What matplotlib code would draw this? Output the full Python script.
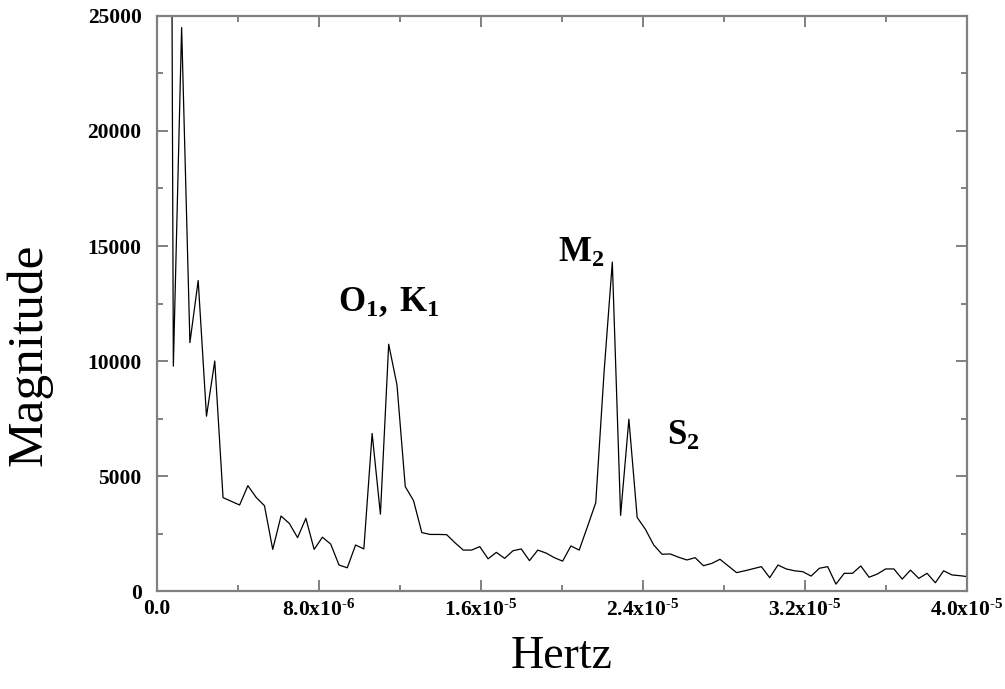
import numpy as np
import matplotlib
matplotlib.use("Agg")
import matplotlib.pyplot as plt
from matplotlib.ticker import MultipleLocator, FixedLocator, FixedFormatter

# Spectrum magnitude for FFT bins 1..98 (bin spacing in Hz below)
bin_spacing_hz = 0.409e-6
magnitude = [
    107000, 9780, 24500, 10800, 13500, 7600, 10000, 4060, 3900, 3740,
    4580, 4070, 3710, 1810, 3260, 2940, 2320, 3160, 1810, 2340,
    2040, 1130, 1010, 2000, 1830, 6850, 3340, 10730, 8960, 4540,
    3930, 2540, 2460, 2460, 2450, 2100, 1780, 1780, 1930, 1400,
    1680, 1420, 1750, 1830, 1320, 1780, 1650, 1450, 1300, 1960,
    1780, 2800, 3840, 9500, 14300, 3290, 7470, 3200, 2680, 2000,
    1600, 1610, 1470, 1350, 1450, 1100, 1200, 1380, 1090, 800,
    880, 970, 1060, 580, 1130, 960, 880, 840, 650, 990,
    1060, 300, 770, 770, 1090, 600, 740, 960, 960, 520,
    910, 550, 770, 360, 880, 700, 665, 620,
]
bins = np.arange(1, len(magnitude) + 1)
freq = bins * bin_spacing_hz

x_tick_values = [0.0, 8.0e-6, 1.6e-5, 2.4e-5, 3.2e-5, 4.0e-5]
x_tick_labels = ["0.0",
                 "$\\mathregular{8.0x10^{\u20106}}$",
                 "$\\mathregular{1.6x10^{\u20105}}$",
                 "$\\mathregular{2.4x10^{\u20105}}$",
                 "$\\mathregular{3.2x10^{\u20105}}$",
                 "$\\mathregular{4.0x10^{\u20105}}$"]
y_tick_values = [0, 5000, 10000, 15000, 20000, 25000]

# Tidal constituent labels: (text, frequency, magnitude) of the label anchor
constituents = [
    (r"$\mathregular{O_1,\,K_1}$", 8.95e-6, 12150),
    (r"$\mathregular{M_2}$", 19.8e-6, 14300),
    (r"$\mathregular{S_2}$", 25.2e-6, 6350),
]

serif = "Liberation Serif"
grey = "#808080"

fig = plt.figure(figsize=(10.05, 6.89), dpi=100)
ax = fig.add_axes([0.156, 0.1422, 0.806, 0.8346])

ax.plot(freq, magnitude, color="black", linewidth=0.9)

ax.set_xlim(0, 4.0e-5)
ax.set_ylim(0, 25000)

ax.xaxis.set_major_locator(FixedLocator(x_tick_values))
ax.xaxis.set_major_formatter(FixedFormatter(x_tick_labels))
ax.xaxis.set_minor_locator(MultipleLocator(4.0e-6))
ax.yaxis.set_major_locator(FixedLocator(y_tick_values))
ax.yaxis.set_minor_locator(MultipleLocator(2500))

for side in ax.spines.values():
    side.set_color(grey)
    side.set_linewidth(1.6)

ax.tick_params(which="both", direction="in", top=True, right=True,
               color=grey, width=1.4)
ax.tick_params(which="major", length=8)
ax.tick_params(which="minor", length=4.5)
ax.tick_params(axis="y", which="major", pad=11)
ax.tick_params(axis="x", which="major", pad=6)

for lab in ax.get_xticklabels() + ax.get_yticklabels():
    lab.set_fontfamily(serif)
    lab.set_fontweight("bold")
    lab.set_fontsize(15.5)

ax.set_xlabel("Hertz", fontfamily=serif, fontsize=33)
ax.xaxis.set_label_coords(0.5, -0.078)
ax.xaxis.label.set_va("top")

ax.set_ylabel("Magnitude", fontfamily=serif, fontsize=37)
ax.yaxis.set_label_coords(-0.158, 0.41)
ax.yaxis.label.set_va("center")

for text, fx, fy in constituents:
    ax.text(fx, fy, text, fontfamily=serif, fontweight="bold", fontsize=25,
            ha="left", va="baseline")

fig.savefig("out.png", dpi=100, facecolor="white")
